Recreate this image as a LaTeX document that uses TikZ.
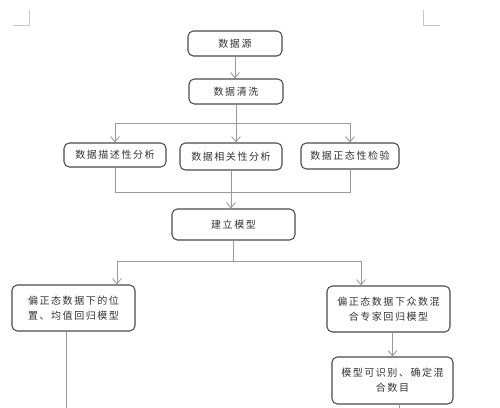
\documentclass[tikz,border=0pt]{standalone}
\usepackage{fontspec}
\newfontfamily\cjk[LetterSpace=15]{Noto Sans CJK SC}
\usetikzlibrary{arrows.meta}

\definecolor{boxgray}{HTML}{4A4A4A}
\definecolor{linegray}{HTML}{9A9A9A}
\definecolor{txtgray}{HTML}{333333}
\definecolor{markgray}{HTML}{C8C8C8}

\tikzset{
  box/.style={draw=boxgray, line width=0.6pt, rounded corners=3pt, inner sep=0pt,
    text=txtgray, align=center, font=\cjk\fontsize{5.7}{8.5}\selectfont},
  link/.style={draw=linegray, line width=0.5pt},
  arr/.style={link, -{Straight Barb[length=3pt,width=5pt]}},
  corner/.style={draw=markgray, line width=0.5pt}
}

\begin{document}
\begin{tikzpicture}[x=0.02cm, y=-0.02cm]

\useasboundingbox (0,0) rectangle (500,408);

% page corner marks
\draw[corner] (13,25) -- (29,25) -- (29,10);
\draw[corner] (423,10) -- (423,25) -- (440,25);

% boxes
\node[box, minimum width=1.88cm, minimum height=0.5cm] (src) at (235,43.5) {数据源};
\node[box, minimum width=1.88cm, minimum height=0.5cm] (clean) at (236,91.5) {数据清洗};
\node[box, minimum width=2.04cm, minimum height=0.48cm] (desc) at (115,155) {数据描述性分析};
\node[box, minimum width=2.04cm, minimum height=0.54cm] (corr) at (231,156.5) {数据相关性分析};
\node[box, minimum width=1.96cm, minimum height=0.52cm] (norm) at (350,156) {数据正态性检验};
\node[box, minimum width=2.46cm, minimum height=0.62cm] (model) at (233.5,224.5) {建立模型};
\node[box, minimum width=2.46cm, minimum height=0.92cm] (left) at (73.5,308) {偏正态数据下的位\\置、均值回归模型};
\node[box, minimum width=2.46cm, minimum height=0.92cm] (right) at (388.5,309) {偏正态数据下众数混\\合专家回归模型};
\node[box, minimum width=2.42cm, minimum height=0.94cm] (ident) at (392.5,380.5) {模型可识别、确定混\\合数目};

% branch points
\coordinate (split1) at (236,123);
\coordinate (join1) at (234,192);
\coordinate (split2) at (233.5,261);
\coordinate (l1) at (117,261);
\coordinate (r1) at (361,261);
\coordinate (lend) at (66,408);
\coordinate (iend) at (399,408);

% source -> cleaning
\draw[arr] (src.south) -- (src.south |- clean.north);

% cleaning -> three analyses
\draw[link] (clean.south) -- (split1);
\draw[link] (desc.north |- split1) -- (norm.north |- split1);
\draw[arr] (desc.north |- split1) -- (desc.north);
\draw[arr] (split1) -- (split1 |- corr.north);
\draw[arr] (norm.north |- split1) -- (norm.north);

% analyses -> model
\draw[link] (desc.south) -- (desc.south |- join1) -- (norm.south |- join1) -- (norm.south);
\draw[arr] (corr.south) -- (corr.south |- model.north);

% model -> two regressions
\draw[link] (model.south) -- (split2);
\draw[link] (l1) -- (r1);
\draw[arr] (l1) -- (l1 |- left.north);
\draw[arr] (r1) -- (r1 |- right.north);

% further steps
\draw[link] (left.south -| lend) -- (lend);
\draw[arr] (right.south -| ident) -- (ident.north);
\draw[link] (ident.south -| iend) -- (iend);

\end{tikzpicture}
\end{document}
